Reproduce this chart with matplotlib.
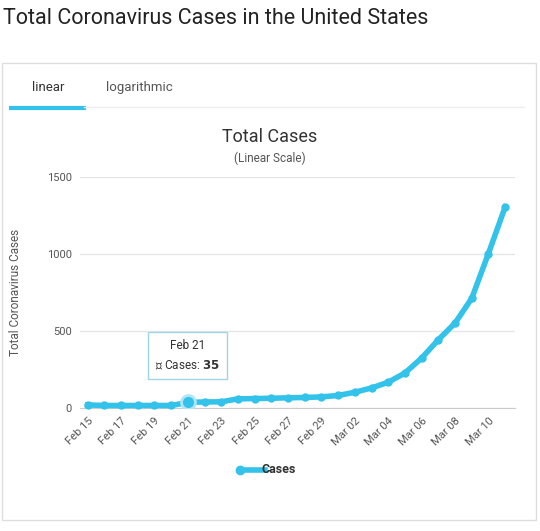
import matplotlib.pyplot as plt
import matplotlib.patches as patches
import numpy as np

# data
dates = ['Feb 15', 'Feb 16', 'Feb 17', 'Feb 18', 'Feb 19', 'Feb 20', 'Feb 21', 'Feb 22',
         'Feb 23', 'Feb 24', 'Feb 25', 'Feb 26', 'Feb 27', 'Feb 28', 'Feb 29', 'Mar 01',
         'Mar 02', 'Mar 03', 'Mar 04', 'Mar 05', 'Mar 06', 'Mar 07', 'Mar 08', 'Mar 09',
         'Mar 10', 'Mar 11']
cases = [19, 15, 15, 15, 15, 15, 35, 38, 39, 58, 60, 62, 65, 67, 71, 80,
         101, 129, 166, 226, 323, 442, 550, 711, 1002, 1304]

cyan = '#33c2ea'
plt.rcParams['font.family'] = 'Roboto'

fig = plt.figure(figsize=(5.4, 5.31), dpi=100)
fig.text(0.005, 0.965, 'Total Coronavirus Cases in the United States', fontsize=15.5,
         color='#222222', va='center')

# card
fig.add_artist(patches.Rectangle((0.004, 0.02), 0.988, 0.862, transform=fig.transFigure,
                                 fill=False, edgecolor='#dddddd', linewidth=1))
fig.text(0.09, 0.835, 'linear', fontsize=9.5, color='#333333', ha='center', va='center')
fig.text(0.258, 0.835, 'logarithmic', fontsize=9.5, color='#555555', ha='center', va='center')
fig.add_artist(plt.Line2D([0.02, 0.155], [0.797, 0.797], transform=fig.transFigure,
                          color=cyan, linewidth=3))
fig.add_artist(plt.Line2D([0.155, 0.97], [0.799, 0.799], transform=fig.transFigure,
                          color='#eeeeee', linewidth=1))
fig.text(0.5, 0.742, 'Total Cases', fontsize=13, color='#333333', ha='center', va='center')
fig.text(0.5, 0.702, '(Linear Scale)', fontsize=8.5, color='#555555', ha='center', va='center')

ax = fig.add_axes([0.148, 0.232, 0.806, 0.435])
x = np.arange(len(dates))
ax.plot(x, cases, '-o', color=cyan, linewidth=4, markersize=5, clip_on=False, zorder=3)
ax.plot(x[6], cases[6], 'o', color=cyan, markersize=10, markeredgecolor='#aee6f6',
        markeredgewidth=2, zorder=4)

ax.set_xlim(-0.46, 25.6)
ax.set_ylim(0, 1500)
ax.set_yticks([0, 500, 1000, 1500])
ax.set_xticks(x[::2])
ax.set_xticklabels(dates[::2], rotation=45, ha='right', rotation_mode='anchor')
ax.tick_params(axis='both', length=0, labelsize=8, colors='#555555', pad=6)
ax.grid(axis='y', color='#e6e6e6', linewidth=1)
for s in ['top', 'right', 'left']:
    ax.spines[s].set_visible(False)
ax.spines['bottom'].set_color('#cccccc')
ax.set_ylabel('Total Coronavirus Cases', fontsize=8.5, color='#555555', labelpad=18)

# tooltip
ax.annotate('Feb 21\n\u25cf Cases: $\\bf{35}$', xy=(x[6], cases[6]), xytext=(0, 22),
            textcoords='offset points', ha='center', va='bottom', fontsize=8.5,
            color='#333333', linespacing=1.6,
            bbox=dict(boxstyle='square,pad=0.6', facecolor='white', edgecolor='#9fd6e6'))

# legend
fig.add_artist(plt.Line2D([0.445, 0.49], [0.115, 0.115], transform=fig.transFigure,
                          color=cyan, linewidth=4, marker='o', markersize=6, markevery=[0]))
fig.text(0.485, 0.115, 'Cases', fontsize=9, fontweight='bold', color='#333333', va='center')

fig.savefig('out.png', dpi=100)
